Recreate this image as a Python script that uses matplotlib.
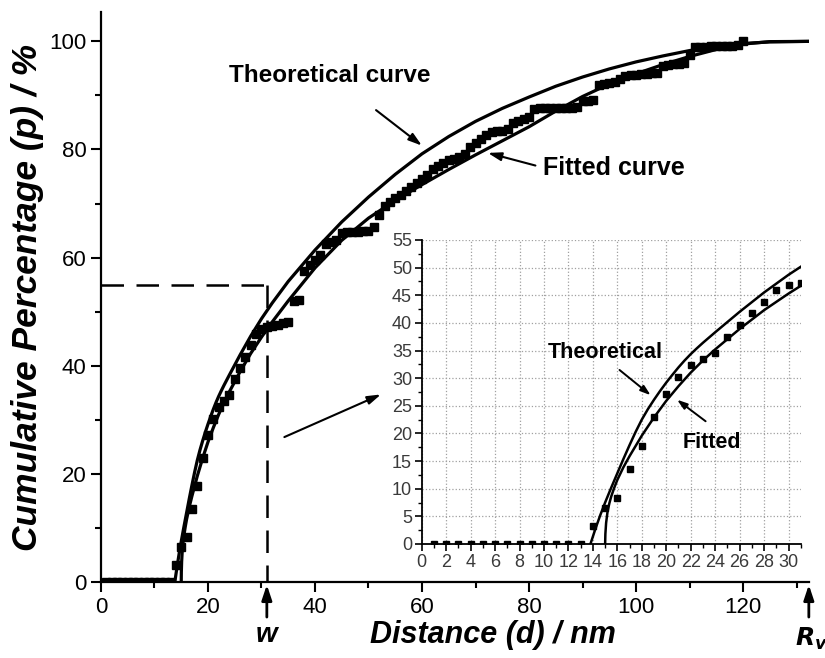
import matplotlib
matplotlib.use("Agg")
import matplotlib.pyplot as plt
from matplotlib.ticker import MultipleLocator
import numpy as np

plt.rcParams['font.family'] = ['Liberation Sans', 'DejaVu Sans']

# Измеренные точки: расстояние (нм) и накопленный процент
dist = np.arange(1, 121)
cum_pct = [
    0, 0, 0, 0, 0, 0, 0, 0, 0, 0, 0, 0, 0,
    3.2, 6.5, 8.3, 13.5, 17.8, 23.0, 27.1, 30.2, 32.4, 33.5,
    34.5, 37.5, 39.6, 41.7, 43.8, 45.9, 46.8, 47.2, 47.4, 47.6,
    47.9, 48.0, 52.0, 52.1, 57.6, 58.6, 59.5, 60.4, 62.5, 62.8,
    63.2, 64.6, 64.7, 64.7, 64.8, 64.9, 65.0, 65.6, 67.8, 69.5,
    70.3, 71.0, 71.6, 72.4, 73.0, 73.8, 74.5, 75.3, 76.4, 77.0,
    77.5, 78.0, 78.3, 78.6, 79.2, 80.4, 81.2, 81.9, 82.6, 83.2,
    83.4, 83.5, 83.7, 84.9, 85.3, 85.7, 86.0, 87.5, 87.6, 87.6,
    87.6, 87.6, 87.7, 87.7, 87.7, 87.8, 88.9, 89.0, 89.1, 91.9,
    92.1, 92.3, 92.5, 93.0, 93.6, 93.7, 93.8, 93.9, 94.0, 94.1,
    94.2, 95.5, 95.7, 95.8, 95.9, 96.0, 97.5, 98.9, 99.0, 99.0,
    99.1, 99.1, 99.1, 99.2, 99.2, 99.3, 100.0,
]

# Теоретическая кривая
theo_d = [13.8, 14.2, 14.6, 15.0, 15.5, 16.0, 16.5, 17.0, 17.5, 18.0, 18.5,
          19.0, 19.5, 20.0, 20.5, 21.0, 21.5, 22.0, 22.5, 23.0, 24.0, 26.0,
          28.0, 30.0, 32.0, 35.0, 40.0, 45.0, 50.0, 55.0, 60.0, 65.0, 70.0,
          75.0, 80.0, 85.0, 90.0, 95.0, 100.0, 105.0, 110.0, 115.0, 120.0,
          125.0, 132.3]
theo_p = [0.0, 2.7, 5.2, 7.5, 10.2, 12.8, 15.4, 17.9, 20.3, 22.5, 24.4,
          26.1, 27.7, 29.2, 30.6, 31.95, 33.2, 34.35, 35.4, 36.4, 38.3, 42.0,
          45.5, 48.7, 51.6, 55.6, 61.4, 66.6, 71.2, 75.4, 79.2, 82.4, 85.2,
          87.6, 89.7, 91.7, 93.4, 94.9, 96.2, 97.3, 98.3, 99.0, 99.6,
          99.9, 100.0]

# Аппроксимирующая кривая
fit_d = [15.0, 15.02, 15.08, 15.2, 15.35, 15.5, 15.75, 16.0, 16.5, 17.0,
         18.0, 19.0, 20.0, 21.0, 22.0, 23.0, 24.0, 26.0, 28.0, 30.0, 32.0,
         35.0, 40.0, 45.0, 50.0, 55.0, 60.0, 65.0, 70.0, 75.0, 80.0, 85.0,
         90.0, 95.0, 100.0, 105.0, 110.0, 115.0, 120.0, 125.0, 132.3]
fit_p = [0.0, 1.8, 3.8, 5.9, 7.4, 8.6, 10.2, 11.6, 13.9, 15.9,
         19.6, 22.9, 25.9, 28.55, 31.0, 33.2, 35.2, 38.9, 42.3, 45.3, 48.1,
         52.0, 58.1, 63.2, 67.3, 70.6, 73.5, 76.3, 79.0, 81.6, 84.2, 87.1,
         89.8, 92.1, 94.0, 95.7, 97.2, 98.5, 99.5, 99.95, 100.0]

w_pos = 31
w_pct = 55
rv_pos = 132.3

fig = plt.figure(figsize=(8.25, 6.58), dpi=100)
ax = fig.add_axes([0.1224, 0.1155, 0.858, 0.866])

ax.plot(dist, cum_pct, 's', color='black', markersize=5.5, zorder=3)
ax.plot(theo_d, theo_p, '-', color='black', lw=2.3, zorder=4)
ax.plot(fit_d, fit_p, '-', color='black', lw=2.3, zorder=4)

# пунктир на w
ax.plot([0, w_pos], [w_pct, w_pct], color='black', lw=1.8, dashes=(9, 5), zorder=2)
ax.plot([w_pos, w_pos], [w_pct, 0], color='black', lw=1.8, dashes=(9, 5), zorder=2)

ax.set_xlim(0, 132.3)
ax.set_ylim(0, 105.4)
for side in ('top', 'right'):
    ax.spines[side].set_visible(False)
for side in ('left', 'bottom'):
    ax.spines[side].set_linewidth(1.6)
ax.xaxis.set_major_locator(MultipleLocator(20))
ax.xaxis.set_minor_locator(MultipleLocator(10))
ax.yaxis.set_major_locator(MultipleLocator(20))
ax.yaxis.set_minor_locator(MultipleLocator(10))
ax.tick_params(which='major', direction='out', length=7, width=1.5, labelsize=16)
ax.tick_params(which='minor', direction='out', length=4, width=1.5)

ax.set_xlabel('Distance (d) / nm', fontsize=22, fontweight='bold', style='italic')
ax.xaxis.set_label_coords(0.554, -0.067)
ax.set_ylabel('Cumulative Percentage (p) / %', fontsize=25.5, fontweight='bold',
              style='italic', labelpad=4)

arrow_kw = dict(arrowstyle='-|>,head_length=0.8,head_width=0.25', color='black', lw=1.5)
ax.annotate('', xy=(60.4, 80.4), xytext=(51.0, 87.6), arrowprops=arrow_kw)
ax.text(42.8, 93.7, 'Theoretical curve', fontsize=17.5, fontweight='bold',
        ha='center', va='center')
ax.annotate('', xy=(71.8, 79.5), xytext=(81.7, 76.9), arrowprops=arrow_kw)
ax.text(82.6, 76.5, 'Fitted curve', fontsize=18, fontweight='bold',
        ha='left', va='center')
ax.annotate('', xy=(52.8, 34.9), xytext=(33.8, 26.6), arrowprops=arrow_kw)

# стрелки w и R_v под осью
ax.annotate('', xy=(w_pos, 0), xytext=(w_pos, -7), xycoords='data',
            arrowprops=dict(arrowstyle='-|>,head_length=0.9,head_width=0.3',
                            color='black', lw=2), annotation_clip=False)
ax.text(w_pos, -9.8, 'w', fontsize=20, fontweight='bold', style='italic',
        ha='center', va='center', clip_on=False)
ax.annotate('', xy=(rv_pos, 0), xytext=(rv_pos, -7), xycoords='data',
            arrowprops=dict(arrowstyle='-|>,head_length=0.9,head_width=0.3',
                            color='black', lw=2), annotation_clip=False)
ax.text(rv_pos - 2.6, -10.6, r'$\mathbfit{R}_{\mathbfit{v}}$', fontsize=18,
        ha='left', va='center', clip_on=False)

# Вставка
axin = fig.add_axes([0.5112, 0.1733, 0.4594, 0.462])
axin.plot(dist, cum_pct, 's', color='black', markersize=5, zorder=3)
axin.plot(theo_d, theo_p, '-', color='black', lw=1.8, zorder=4)
axin.plot(fit_d, fit_p, '-', color='black', lw=1.8, zorder=4)
axin.set_xlim(0, 31)
axin.set_ylim(0, 55)
for side in ('top', 'right'):
    axin.spines[side].set_visible(False)
for side in ('left', 'bottom'):
    axin.spines[side].set_linewidth(1.3)
axin.xaxis.set_major_locator(MultipleLocator(2))
axin.xaxis.set_minor_locator(MultipleLocator(1))
axin.yaxis.set_major_locator(MultipleLocator(5))
axin.yaxis.set_minor_locator(MultipleLocator(2.5))
axin.tick_params(which='major', direction='out', length=5, width=1.2,
                 labelsize=13, labelcolor='#3a3a3a', pad=2)
axin.tick_params(which='minor', direction='out', length=3, width=1.0)
axin.grid(True, which='major', color='#a0a0a0', linestyle=':', lw=0.9)
axin.set_axisbelow(True)

in_arrow = dict(arrowstyle='-|>,head_length=0.6,head_width=0.2', color='black', lw=1.4)
axin.annotate('', xy=(18.9, 26.6), xytext=(16.0, 31.8), arrowprops=in_arrow)
axin.text(15.0, 34.7, 'Theoretical', fontsize=15.5, fontweight='bold',
          ha='center', va='center')
axin.annotate('', xy=(20.7, 26.4), xytext=(23.4, 21.9), arrowprops=in_arrow)
axin.text(23.7, 18.3, 'Fitted', fontsize=15.5, fontweight='bold',
          ha='center', va='center')

fig.savefig('out.png', dpi=100)
